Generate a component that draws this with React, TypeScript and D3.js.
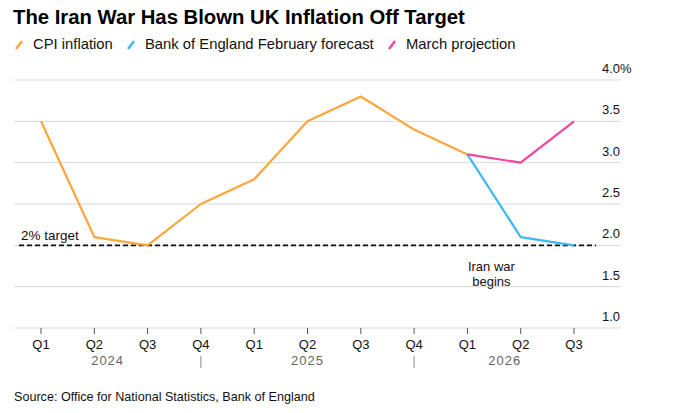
import React, { useEffect, useRef } from 'react';
import * as d3 from 'd3';

const quarters = ['Q1', 'Q2', 'Q3', 'Q4', 'Q1', 'Q2', 'Q3', 'Q4', 'Q1', 'Q2', 'Q3'];
// year labels sit centred between the dividers (indices in quarter units)
const years = [
  { label: '2024', from: -0.5, to: 3 },
  { label: '2025', from: 3, to: 7 },
  { label: '2026', from: 7, to: 10.4 },
];
const yearDividers = [3, 7];
const cpi = [3.5, 2.1, 2.0, 2.5, 2.8, 3.5, 3.8, 3.4, 3.1];
const boeForecast = [3.1, 2.1, 2.0];
const marchProjection = [3.1, 3.0, 3.5];
const forecastStart = 8;
const yTicks = [1.0, 1.5, 2.0, 2.5, 3.0, 3.5, 4.0];
const target = 2.0;

const colors = { cpi: '#ffa53a', boe: '#3ab9f2', march: '#f0469f' };
const font = "'Liberation Sans', Arial, sans-serif";

const App: React.FC = () => {
  const svgRef = useRef<SVGSVGElement>(null);

  useEffect(() => {
    if (!svgRef.current) return;
    const svg = d3.select(svgRef.current);
    svg.selectAll('*').remove();

    const x = d3.scaleLinear().domain([0, quarters.length - 1]).range([41, 574]);
    const y = d3.scaleLinear().domain([1, 4]).range([328, 80]);
    const gridLeft = 14;
    const gridRight = 621;

    // title
    svg
      .append('text')
      .attr('x', 13)
      .attr('y', 24)
      .text('The Iran War Has Blown UK Inflation Off Target')
      .style('font-family', font)
      .style('font-weight', '700')
      .style('font-size', '20.3px')
      .style('fill', '#000');

    // legend
    const legendItems = [
      { label: 'CPI inflation', color: colors.cpi, x: 14 },
      { label: 'Bank of England February forecast', color: colors.boe, x: 126 },
      { label: 'March projection', color: colors.march, x: 387 },
    ];
    const legend = svg.append('g').attr('transform', 'translate(0,44)');
    legendItems.forEach((it) => {
      legend
        .append('line')
        .attr('x1', it.x + 2)
        .attr('y1', 5)
        .attr('x2', it.x + 8)
        .attr('y2', -3)
        .style('stroke', it.color)
        .style('stroke-width', 2.5);
      legend
        .append('text')
        .attr('x', it.x + 19)
        .attr('y', 5)
        .text(it.label)
        .style('font-family', font)
        .style('font-size', '14.8px')
        .style('fill', '#111');
    });

    // gridlines
    svg
      .append('g')
      .selectAll('line')
      .data(yTicks)
      .join('line')
      .attr('x1', gridLeft)
      .attr('x2', gridRight)
      .attr('y1', (d) => y(d))
      .attr('y2', (d) => y(d))
      .style('stroke', '#d9d9d9')
      .style('stroke-width', 1);

    // y labels
    const yLabels = svg.append('g');
    yTicks.forEach((t) => {
      yLabels
        .append('text')
        .attr('x', 620)
        .attr('y', y(t) - 7)
        .attr('text-anchor', 'end')
        .text(t.toFixed(1))
        .style('font-family', font)
        .style('font-size', '13px')
        .style('fill', '#111');
      if (t === 4) {
        yLabels
          .append('text')
          .attr('x', 620)
          .attr('y', y(t) - 7)
          .text('%')
          .style('font-family', font)
          .style('font-size', '13px')
          .style('fill', '#111');
      }
    });

    // x axis ticks and labels
    const xAxis = svg.append('g');
    quarters.forEach((q, i) => {
      xAxis
        .append('line')
        .attr('x1', x(i))
        .attr('x2', x(i))
        .attr('y1', y(1))
        .attr('y2', y(1) + 6)
        .style('stroke', '#555')
        .style('stroke-width', 1);
      xAxis
        .append('text')
        .attr('x', x(i))
        .attr('y', 349)
        .attr('text-anchor', 'middle')
        .text(q)
        .style('font-family', font)
        .style('font-size', '13px')
        .style('fill', '#111');
    });
    years.forEach((yr) => {
      xAxis
        .append('text')
        .attr('x', (x(yr.from) + x(yr.to)) / 2)
        .attr('y', 365)
        .attr('text-anchor', 'middle')
        .text(yr.label)
        .style('font-family', font)
        .style('font-size', '13px')
        .style('letter-spacing', '1px')
        .style('fill', '#666');
    });
    yearDividers.forEach((d) => {
      xAxis
        .append('line')
        .attr('x1', x(d))
        .attr('x2', x(d))
        .attr('y1', 356)
        .attr('y2', 368)
        .style('stroke', '#888')
        .style('stroke-width', 1);
    });

    // target line
    svg
      .append('line')
      .attr('x1', 19)
      .attr('x2', 596)
      .attr('y1', y(target))
      .attr('y2', y(target))
      .style('stroke', '#111')
      .style('stroke-width', 1.6)
      .style('stroke-dasharray', '5,3');
    svg
      .append('text')
      .attr('x', 21)
      .attr('y', y(target) - 5)
      .text('2% target')
      .style('font-family', font)
      .style('font-size', '13.5px')
      .style('fill', '#111');

    // annotation
    const ann = svg
      .append('text')
      .attr('text-anchor', 'middle')
      .style('font-family', font)
      .style('font-size', '13px')
      .style('fill', '#111');
    ann.append('tspan').attr('x', x(forecastStart) + 24).attr('y', 271).text('Iran war');
    ann.append('tspan').attr('x', x(forecastStart) + 24).attr('y', 286).text('begins');

    // lines
    const line = d3
      .line<[number, number]>()
      .x((d) => x(d[0]))
      .y((d) => y(d[1]));
    const series = [
      { values: cpi.map((v, i) => [i, v] as [number, number]), color: colors.cpi },
      {
        values: boeForecast.map((v, i) => [forecastStart + i, v] as [number, number]),
        color: colors.boe,
      },
      {
        values: marchProjection.map((v, i) => [forecastStart + i, v] as [number, number]),
        color: colors.march,
      },
    ];
    svg
      .append('g')
      .selectAll('path')
      .data(series)
      .join('path')
      .attr('d', (d) => line(d.values))
      .style('fill', 'none')
      .style('stroke', (d) => d.color)
      .style('stroke-width', 2.2)
      .style('stroke-linejoin', 'round');

    // source
    svg
      .append('text')
      .attr('x', 14)
      .attr('y', 401)
      .text('Source: Office for National Statistics, Bank of England')
      .style('font-family', font)
      .style('font-size', '12.6px')
      .style('fill', '#111');
  }, []);

  return (
    <div>
      <style>{`body{margin:0;background:#fff}`}</style>
      <svg ref={svgRef} width={679} height={413} style={{ display: 'block', background: '#fff' }} />
    </div>
  );
};

export default App;
